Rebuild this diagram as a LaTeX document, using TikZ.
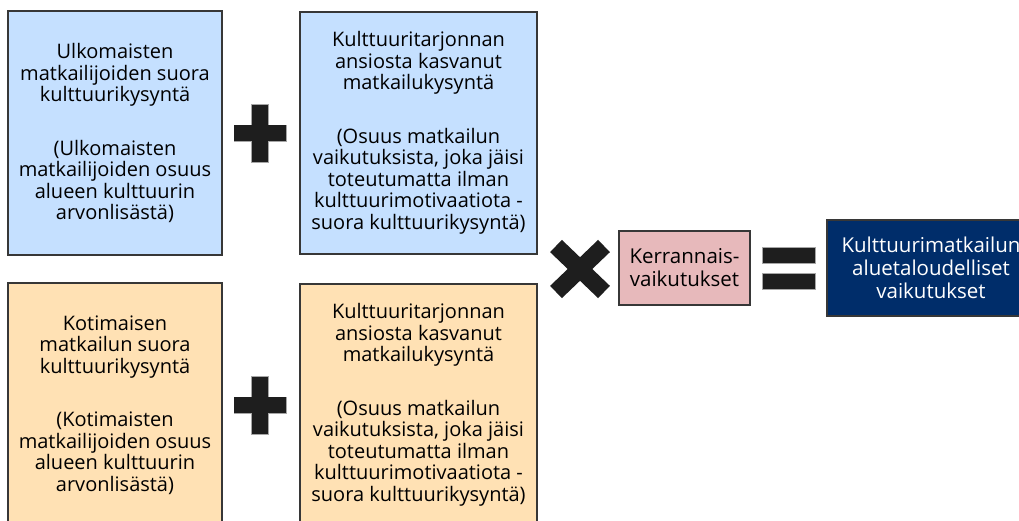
\documentclass[tikz,border=0pt]{standalone}
\usepackage{fontspec}
\setmainfont{Open Sans}
\usepackage{tikz}
\usetikzlibrary{positioning}

\definecolor{bluefill}{RGB}{197,224,255}
\definecolor{orangefill}{RGB}{255,225,180}
\definecolor{pinkfill}{RGB}{231,185,187}
\definecolor{navyfill}{RGB}{0,45,106}
\definecolor{signfill}{RGB}{30,30,30}
\definecolor{edgecol}{RGB}{55,55,55}

\begin{document}
\begin{tikzpicture}[x=1pt,y=-1pt,
    box/.style={draw=edgecol,line width=1.1pt,align=center,inner sep=0pt,
        font=\fontsize{20}{21.5}\selectfont},
    bluebox/.style={box,fill=bluefill},
    orangebox/.style={box,fill=orangefill},
    sign/.style={fill=signfill,draw=gray!70,line width=0.5pt}]
\useasboundingbox (0,0) rectangle (1019,521);
\clip (0,0) rectangle (1019,521);

% foreign tourists
\node[bluebox,minimum width=214pt,minimum height=244pt] (ulko) at (115,133)
    {Ulkomaisten\\matkailijoiden suora\\kulttuurikysyntä\\[32pt]
     (Ulkomaisten\\matkailijoiden osuus\\alueen kulttuurin\\arvonlisästä)};
\node[bluebox,minimum width=237pt,minimum height=242pt] (ulkolisa) at (418.5,133)
    {Kulttuuritarjonnan\\ansiosta kasvanut\\matkailukysyntä\\[32pt]
     (Osuus matkailun\\vaikutuksista, joka jäisi\\toteutumatta ilman\\
     kulttuurimotivaatiota -\\suora kulttuurikysyntä)};

% domestic tourists
\node[orangebox,minimum width=214pt,minimum height=244pt] (koti) at (115,405)
    {Kotimaisen\\matkailun suora\\kulttuurikysyntä\\[32pt]
     (Kotimaisten\\matkailijoiden osuus\\alueen kulttuurin\\arvonlisästä)};
\node[orangebox,minimum width=237pt,minimum height=242pt] (kotilisa) at (418.5,405)
    {Kulttuuritarjonnan\\ansiosta kasvanut\\matkailukysyntä\\[32pt]
     (Osuus matkailun\\vaikutuksista, joka jäisi\\toteutumatta ilman\\
     kulttuurimotivaatiota -\\suora kulttuurikysyntä)};

\node[box,fill=pinkfill,minimum width=131pt,minimum height=74pt,
    font=\fontsize{20.5}{23}\selectfont] (kerr) at (684.5,268)
    {Kerrannais-\\vaikutukset};
\node[box,fill=navyfill,text=white,minimum width=208pt,minimum height=96pt,
    font=\fontsize{20.5}{23}\selectfont] (tulos) at (931,268)
    {Kulttuurimatkailun\\aluetaloudelliset\\vaikutukset};

% operators
\foreach \y in {133,405} {
    \fill[sign] (234,\y-8) rectangle (286,\y+8);
    \fill[sign] (251,\y-29) rectangle (268,\y+29);
    \fill[signfill] (234.3,\y-7.7) rectangle (285.7,\y+7.7);
}
\draw[signfill,line width=17pt] (556,246) -- (604,292) (556,292) -- (604,246);
\fill[sign] (762,247) rectangle (815,263);
\fill[sign] (762,273) rectangle (815,289);
\end{tikzpicture}
\end{document}
